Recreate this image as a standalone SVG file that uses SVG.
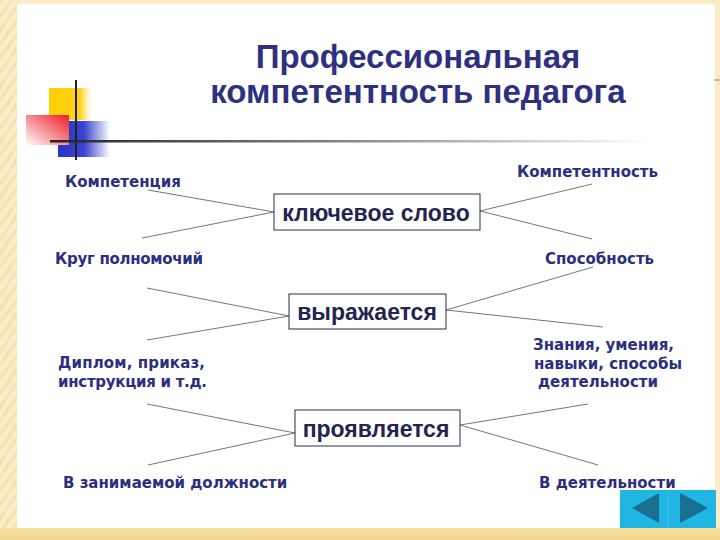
<svg xmlns="http://www.w3.org/2000/svg" width="720" height="540" viewBox="0 0 720 540">
<defs>
<style>
.title{font-family:"Liberation Sans",Arial,sans-serif;font-weight:bold;font-size:33px;fill:#2E3080}
.lbl{font-family:"DejaVu Sans",Verdana,sans-serif;font-weight:bold;font-size:15px;fill:#2C2E7E}
.key{font-family:"Liberation Sans",Arial,sans-serif;font-weight:bold;font-size:23px;fill:#23244F}
.box{fill:#fff;stroke:#2A2A4A;stroke-width:1}
.con line{stroke:#666;stroke-width:0.9}
</style>
<pattern id="stripes" width="8" height="8" patternUnits="userSpaceOnUse" patternTransform="rotate(35)">
<rect width="8" height="8" fill="#FCEDC8"/>
<rect width="3" height="8" fill="#F7E2B0"/>
</pattern>
<linearGradient id="bottom" x1="0" y1="0" x2="0" y2="1">
<stop offset="0" stop-color="#F8DFA2"/>
<stop offset="1" stop-color="#F4D68C"/>
</linearGradient>
<linearGradient id="yel" x1="0" y1="0" x2="1" y2="0">
<stop offset="0" stop-color="#FFD000"/>
<stop offset="0.75" stop-color="#FFD21A"/>
<stop offset="1" stop-color="#FFF2C0" stop-opacity="0.3"/>
</linearGradient>
<linearGradient id="red" x1="1" y1="0" x2="0" y2="1">
<stop offset="0" stop-color="#EE1C24"/>
<stop offset="0.6" stop-color="#F7A0A6"/>
<stop offset="1" stop-color="#FFFFFF"/>
</linearGradient>
<linearGradient id="blue" x1="0" y1="0" x2="1" y2="0">
<stop offset="0" stop-color="#2A34C8"/>
<stop offset="0.5" stop-color="#3A44D0"/>
<stop offset="1" stop-color="#FFFFFF"/>
</linearGradient>
<linearGradient id="hline" x1="0" y1="0" x2="1" y2="0">
<stop offset="0" stop-color="#222"/>
<stop offset="0.5" stop-color="#888"/>
<stop offset="1" stop-color="#FFFFFF"/>
</linearGradient>
</defs>

<!-- background -->
<rect width="720" height="540" fill="#FCEDC8"/>
<rect x="0" y="0" width="17" height="540" fill="url(#stripes)"/>
<rect x="17" y="4" width="698" height="524" fill="#FFFFFF"/>
<rect x="0" y="528" width="720" height="12" fill="url(#bottom)"/>
<line x1="714" y1="80" x2="720" y2="80" stroke="#D9A24A" stroke-width="1.5"/>

<!-- logo -->
<g id="logo">
<rect x="49" y="88" width="42" height="32" fill="url(#yel)"/>
<rect x="58" y="121" width="52" height="36" fill="url(#blue)"/>
<rect x="26" y="115" width="43" height="30" fill="url(#red)"/>
<line x1="76" y1="80" x2="76" y2="160" stroke="#222" stroke-width="2"/>
<rect x="50" y="140" width="600" height="2.5" fill="url(#hline)"/>
</g>

<!-- title -->
<g id="title">
<text class="title" x="418" y="68" text-anchor="middle">Профессиональная</text>
<text class="title" x="418" y="103" text-anchor="middle">компетентность педагога</text>
</g>

<!-- connectors -->
<g id="connectors" class="con">
<line x1="148" y1="190" x2="274" y2="212"/>
<line x1="142" y1="238" x2="274" y2="212"/>
<line x1="480" y1="211" x2="592" y2="184"/>
<line x1="480" y1="211" x2="592" y2="239"/>
<line x1="147" y1="288" x2="289" y2="316"/>
<line x1="147" y1="340" x2="289" y2="316"/>
<line x1="446" y1="310" x2="593" y2="267"/>
<line x1="446" y1="310" x2="603" y2="327"/>
<line x1="147" y1="404" x2="295" y2="433"/>
<line x1="148" y1="465" x2="295" y2="433"/>
<line x1="460" y1="425" x2="588" y2="404"/>
<line x1="460" y1="425" x2="598" y2="465"/>
</g>

<!-- key boxes -->
<g id="node-key">
<rect class="box" x="274" y="194" width="206" height="36"/>
<text class="key" x="376" y="221" text-anchor="middle">ключевое слово</text>
</g>
<g id="node-expr">
<rect class="box" x="289" y="294" width="157" height="35"/>
<text class="key" x="367" y="320" text-anchor="middle">выражается</text>
</g>
<g id="node-show">
<rect class="box" x="295" y="410" width="165" height="36"/>
<text class="key" x="376" y="437" text-anchor="middle">проявляется</text>
</g>

<!-- labels -->
<g id="lbl-competence"><text class="lbl" x="65" y="187">Компетенция</text></g>
<g id="lbl-competency"><text class="lbl" x="517" y="177">Компетентность</text></g>
<g id="lbl-circle"><text class="lbl" x="55" y="264" textLength="148">Круг полномочий</text></g>
<g id="lbl-ability"><text class="lbl" x="545" y="264">Способность</text></g>
<g id="lbl-diploma"><text class="lbl" x="58" y="368" textLength="147">Диплом, приказ,</text><text class="lbl" x="58" y="387" textLength="149">инструкция и т.д.</text></g>
<g id="lbl-knowledge"><text class="lbl" x="533" y="350">Знания, умения,</text><text class="lbl" x="534" y="369">навыки, способы</text><text class="lbl" x="538" y="387">деятельности</text></g>
<g id="lbl-position"><text class="lbl" x="63" y="488">В занимаемой должности</text></g>
<g id="lbl-activity"><text class="lbl" x="539" y="488">В деятельности</text></g>

<!-- navigation -->
<g id="nav">
<rect x="620" y="490" width="96" height="38" fill="#1FB6E4"/>
<line x1="668" y1="490" x2="668" y2="528" stroke="#3FC4EC" stroke-width="1"/>
<polygon points="632,508 659,493 659,523" fill="#1A6F90"/>
<polygon points="680,493 680,523 708,508" fill="#1A6F90"/>
</g>
</svg>
